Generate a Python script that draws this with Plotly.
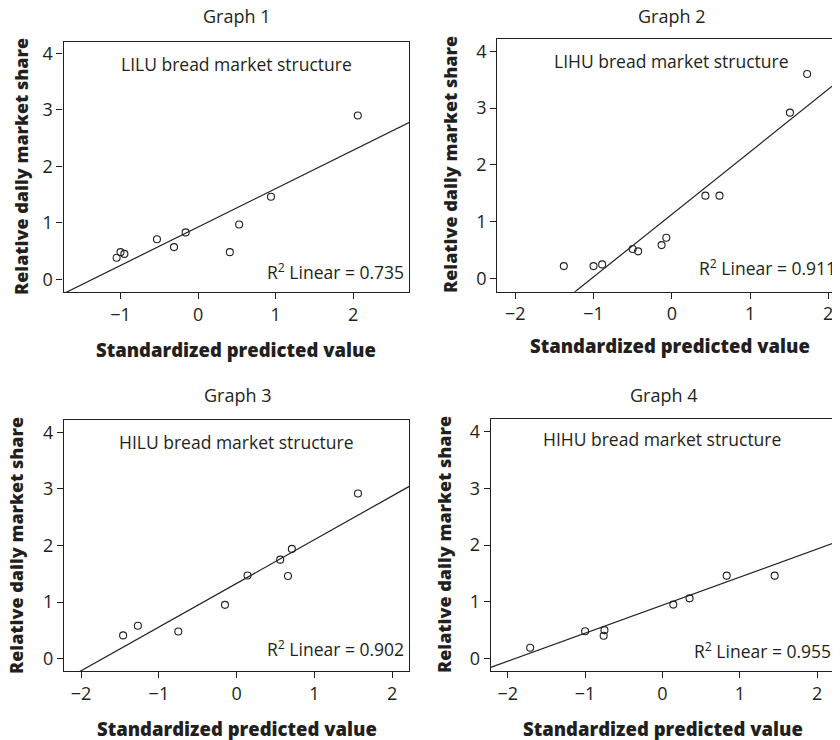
import plotly.graph_objects as go

# ---- data ----
panel_titles = ["Graph 1", "Graph 2", "Graph 3", "Graph 4"]
structure_labels = ["LILU bread market structure", "LIHU bread market structure",
                    "HILU bread market structure", "HIHU bread market structure"]
r2_values = ["0.735", "0.911", "0.902", "0.955"]

g1_x = [2.06, 0.94, 0.53, 0.41, -0.16, -0.31, -0.53, -1.00, -0.95, -1.05]
g1_y = [2.90, 1.46, 0.97, 0.48, 0.83, 0.57, 0.71, 0.48, 0.45, 0.38]

g2_x = [1.73, 1.51, 0.43, 0.61, -0.07, -0.13, -0.50, -0.43, -0.89, -1.00, -1.38]
g2_y = [3.60, 2.92, 1.46, 1.46, 0.72, 0.59, 0.52, 0.48, 0.25, 0.22, 0.22]

g3_x = [1.56, 0.71, 0.56, 0.66, 0.14, -0.15, -0.75, -1.27, -1.46]
g3_y = [2.92, 1.94, 1.75, 1.46, 1.47, 0.95, 0.48, 0.58, 0.41]

g4_x = [1.45, 0.83, 0.35, 0.14, -0.75, -0.76, -1.00, -1.71]
g4_y = [1.46, 1.46, 1.06, 0.95, 0.50, 0.40, 0.48, 0.19]

fit_slopes = [0.68, 1.10, 0.773, 0.494]
fit_intercepts = [0.925, 1.13, 1.33, 0.94]

x_ranges = [[-1.735, 2.72], [-2.23, 2.15], [-2.22, 2.22], [-2.22, 2.23]]
y_ranges = [[-0.225, 4.2], [-0.23, 4.21], [-0.22, 4.22], [-0.22, 4.22]]
x_ticks = [[-1, 0, 1, 2], [-2, -1, 0, 1, 2], [-2, -1, 0, 1, 2], [-2, -1, 0, 1, 2]]
y_ticks = [0, 1, 2, 3, 4]

xs = [g1_x, g2_x, g3_x, g4_x]
ys = [g1_y, g2_y, g3_y, g4_y]

# the page body has an 8px margin; the figure fills the rest of the window
OFF = 8
W, H = 840 - OFF, 740 - OFF
INK = "#231f20"
FONT = "Open Sans"

# plot boxes in window pixels: (left, right, top, bottom)
boxes = [(63.5, 409, 42, 292), (497.3, 840, 39.3, 291.7),
         (64, 409.3, 420, 671), (490.7, 835, 419, 671)]


def px(x):
    return (x - OFF) / W


def py(y):
    return 1 - (y - OFF) / H


fig = go.Figure()
layout = dict(width=W, height=H, margin=dict(l=0, r=0, t=0, b=0),
              paper_bgcolor="white", plot_bgcolor="white", showlegend=False,
              font=dict(family=FONT, color=INK))

for i in range(4):
    n = "" if i == 0 else str(i + 1)
    xa, ya = "x" + n, "y" + n
    fig.add_trace(go.Scatter(x=xs[i], y=ys[i], mode="markers", xaxis=xa, yaxis=ya,
                             marker=dict(symbol="circle-open", size=7, color=INK,
                                         line=dict(width=1.1, color=INK))))
    x0, x1 = x_ranges[i]
    fig.add_trace(go.Scatter(x=[x0, x1],
                             y=[fit_intercepts[i] + fit_slopes[i] * x0,
                                fit_intercepts[i] + fit_slopes[i] * x1],
                             mode="lines", xaxis=xa, yaxis=ya,
                             line=dict(color=INK, width=1.2)))
    l, r, t, b = boxes[i]
    common = dict(showline=True, mirror=True, linecolor=INK, linewidth=1.2,
                  ticks="outside", ticklen=6, tickwidth=1.2, tickcolor=INK,
                  showgrid=False, zeroline=False,
                  tickfont=dict(family=FONT, size=18, color=INK))
    layout["xaxis" + n] = dict(domain=[max(0, px(l)), min(1, px(r))], range=x_ranges[i],
                               tickvals=x_ticks[i], anchor=ya, **common)
    layout["yaxis" + n] = dict(domain=[py(b), py(t)], range=y_ranges[i],
                               tickvals=y_ticks, anchor=xa, **common)

fig.update_layout(**layout)

ann = []
title_pos = [(236, 16), (671, 16), (237, 395), (663, 395)]
inner_pos = [(236.5, 64), (671, 61), (236, 442), (662, 439)]
r2_pos = [(406, 272), (838, 267), (406, 648), (833, 650)]
xt_pos = [(236, 349), (670, 346), (237, 728), (663, 728)]
yt_pos = [(21, 167), (450, 165), (16, 546), (444, 545)]

for i in range(4):
    ann.append(dict(text=panel_titles[i], x=px(title_pos[i][0]), y=py(title_pos[i][1]),
                    xref="paper", yref="paper", showarrow=False,
                    xanchor="center", yanchor="middle",
                    font=dict(family=FONT, size=18, color=INK)))
    ann.append(dict(text=structure_labels[i], x=px(inner_pos[i][0]), y=py(inner_pos[i][1]),
                    xref="paper", yref="paper", showarrow=False,
                    xanchor="center", yanchor="middle",
                    font=dict(family=FONT, size=17.5, color=INK)))
    ann.append(dict(text="R<sup>2</sup> Linear = " + r2_values[i],
                    x=px(r2_pos[i][0]), y=py(r2_pos[i][1]),
                    xref="paper", yref="paper", showarrow=False,
                    xanchor="right", yanchor="middle",
                    font=dict(family=FONT, size=17.5, color=INK)))
    ann.append(dict(text="Standardized predicted value",
                    x=px(xt_pos[i][0]), y=py(xt_pos[i][1]),
                    xref="paper", yref="paper", showarrow=False,
                    xanchor="center", yanchor="middle",
                    font=dict(family=FONT, size=18.5, color=INK, weight=800)))
    ann.append(dict(text="Relative daily market share",
                    x=px(yt_pos[i][0]), y=py(yt_pos[i][1]),
                    xref="paper", yref="paper", showarrow=False, textangle=-90,
                    xanchor="center", yanchor="middle",
                    font=dict(family=FONT, size=18, color=INK, weight=800)))

fig.update_layout(annotations=ann)
fig.write_html("out.html")
